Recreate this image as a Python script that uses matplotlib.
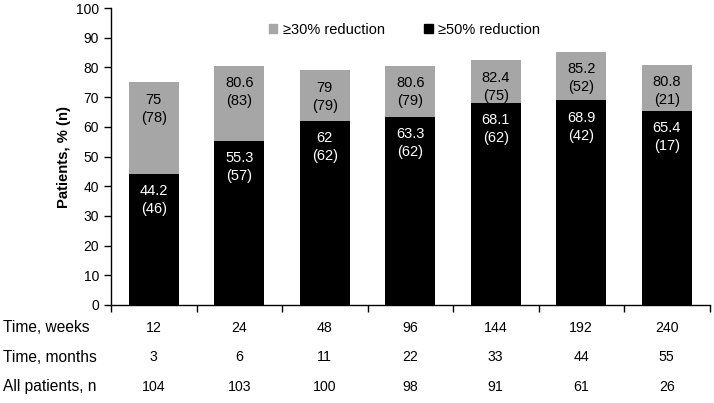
import matplotlib
matplotlib.use("Agg")
import matplotlib.pyplot as plt
from matplotlib.patches import Rectangle

plt.rcParams['font.family'] = ['Liberation Sans', 'DejaVu Sans']

weeks = ["12", "24", "48", "96", "144", "192", "240"]
months = ["3", "6", "11", "22", "33", "44", "55"]
all_n = ["104", "103", "100", "98", "91", "61", "26"]
pct30 = [75, 80.6, 79, 80.6, 82.4, 85.2, 80.8]
n30 = [78, 83, 79, 79, 75, 52, 21]
pct50 = [44.2, 55.3, 62, 63.3, 68.1, 68.9, 65.4]
n50 = [46, 57, 62, 62, 62, 42, 17]

GRAY = '#A6A6A6'
fig = plt.figure(figsize=(7.14, 4.03), dpi=100)
ax = fig.add_axes([111/714, 1-305/403, (709.5-111)/714, (305-8)/403])

x = list(range(len(weeks)))
w = 0.585
ax.bar(x, pct30, width=w, color=GRAY, zorder=2)
ax.bar(x, pct50, width=w, color='black', zorder=3)

def fmt(v):
    return ('%g' % v)

for xi, p, n in zip(x, pct30, n30):
    ax.annotate(f"{fmt(p)}\n({n})", (xi, p), xytext=(0, -7.5), textcoords='offset points',
                ha='center', va='top', fontsize=10.5, color='black', linespacing=1.35, zorder=4)
for xi, p, n in zip(x, pct50, n50):
    ax.annotate(f"{fmt(p)}\n({n})", (xi, p), xytext=(0, -7.5), textcoords='offset points',
                ha='center', va='top', fontsize=10.5, color='white', linespacing=1.35, zorder=4)

ax.set_xlim(-0.5, len(weeks) - 0.5)
ax.set_ylim(0, 100)
ax.set_yticks(range(0, 101, 10))
ax.tick_params(axis='y', labelsize=10, direction='out', length=5, width=1)
ax.set_xticks([i + 0.5 for i in range(-1, len(weeks))])
ax.set_xticklabels([])
ax.tick_params(axis='x', direction='out', length=5, width=1)
for s in ['top', 'right']:
    ax.spines[s].set_visible(False)
for s in ['left', 'bottom']:
    ax.spines[s].set_linewidth(1)
ax.set_ylabel('Patients, % (n)', fontsize=10.75, fontweight='bold', labelpad=4)

# legend
handles = [Rectangle((0, 0), 1, 1, color=GRAY), Rectangle((0, 0), 1, 1, color='black')]
leg = ax.legend(handles, ['≥30% reduction', '≥50% reduction'], loc='upper center',
                bbox_to_anchor=(0.49, 0.995), ncol=2, frameon=False, fontsize=10.5,
                handlelength=0.6, handleheight=0.6, handletextpad=0.35, columnspacing=2.7)

# table rows
rows = [("Time, weeks", weeks, 328), ("Time, months", months, 357), ("All patients, n", all_n, 387)]
for label, vals, ypix in rows:
    yf = 1 - ypix / 403
    fig.text(3/714, yf, label, ha='left', va='center', fontsize=11.2)
    for xi, v in zip(x, vals):
        xd = ax.transData.transform((xi, 0))[0]
        fig.text(xd / fig.bbox.width, yf, v, ha='center', va='center', fontsize=10.2)

fig.savefig('out.png', dpi=100)
